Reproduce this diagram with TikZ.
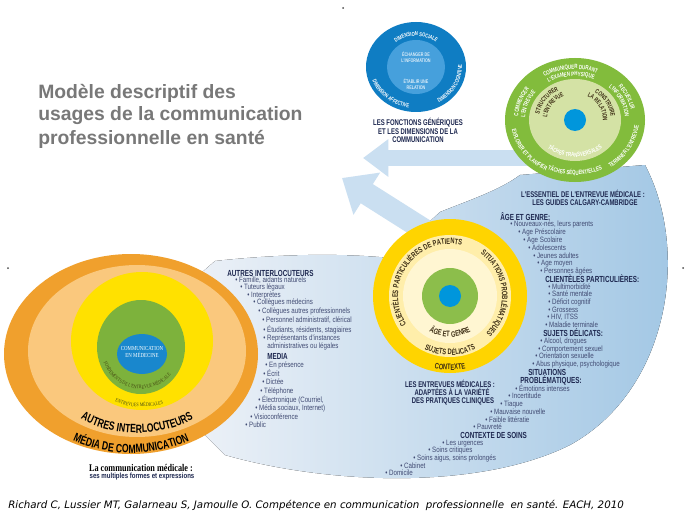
\documentclass[tikz,border=0pt]{standalone}
\usepackage{fontspec}
\setmainfont{Liberation Sans}
\newfontfamily\condfont[FakeStretch=0.8]{Liberation Sans}
\newfontfamily\hdrfont[FakeStretch=0.72]{Liberation Sans}
\newfontfamily\slabfont[FakeStretch=0.8]{Liberation Serif}
\newfontfamily\citefont{DejaVu Sans}
\usetikzlibrary{arrows.meta,decorations.text}

\definecolor{titlegray}{RGB}{120,120,120}
\definecolor{listblue}{RGB}{65,75,115}
\definecolor{navy}{RGB}{30,40,80}
\definecolor{ringink}{RGB}{60,45,20}
\definecolor{oliveink}{RGB}{70,75,20}
\definecolor{bluering}{RGB}{15,125,195}
\definecolor{bluedisc}{RGB}{70,160,220}
\definecolor{greenring}{RGB}{130,188,60}
\definecolor{greendisc}{RGB}{212,226,165}
\definecolor{dotblue}{RGB}{0,150,220}
\definecolor{yellowring}{RGB}{255,212,0}
\definecolor{paleyellow}{RGB}{255,238,170}
\definecolor{paleryellow}{RGB}{255,246,210}
\definecolor{midgreen}{RGB}{140,190,75}
\definecolor{darkorange}{RGB}{240,160,45}
\definecolor{lightorange}{RGB}{250,200,125}
\definecolor{sunyellow}{RGB}{255,225,0}
\definecolor{leafgreen}{RGB}{125,178,60}
\definecolor{medblue}{RGB}{25,135,205}
\definecolor{arrowblue}{RGB}{202,223,241}
\definecolor{swooshleft}{RGB}{240,243,248}
\definecolor{swooshright}{RGB}{160,198,228}

\newcommand\ringwhite{\hdrfont\bfseries\fontsize{4.6}{4.6}\selectfont\color{white}}
\newcommand\blueringwhite{\hdrfont\bfseries\fontsize{4.3}{4.3}\selectfont\color{white}}
\newcommand\ringdark{\hdrfont\bfseries\fontsize{4.8}{4.8}\selectfont\color{ringink}}
\newcommand\yellowink{\hdrfont\bfseries\fontsize{6}{6}\selectfont\color{ringink}}
\newcommand\serifink{\slabfont\fontsize{3.9}{3.9}\selectfont\color{oliveink}}
\newcommand\bigink{\hdrfont\bfseries\fontsize{9}{9}\selectfont\color{black}}

\begin{document}
\begin{tikzpicture}[x=0.75pt,y=0.75pt,
    listitem/.style={anchor=west,inner sep=0pt,text height=4.1pt,text depth=1.2pt,text=listblue,font=\condfont\fontsize{5.8}{5.8}\selectfont},
    listhead/.style={anchor=west,inner sep=0pt,text height=4.5pt,text depth=1.2pt,text=navy,font=\hdrfont\bfseries\fontsize{6.6}{6.6}\selectfont},
    headline/.style={inner sep=0pt,text height=4.5pt,text depth=1.2pt,text=navy,font=\hdrfont\bfseries\fontsize{6.2}{6.2}\selectfont},
    subline/.style={inner sep=0pt,text height=4.3pt,text depth=1.2pt,text=navy,font=\hdrfont\bfseries\fontsize{6.2}{6.2}\selectfont},
    titleline/.style={anchor=west,inner sep=0pt,text=titlegray,font=\bfseries\fontsize{14.5}{14.5}\selectfont},
    ringtext/.style={decorate,decoration={text along path,text align=center,text={#1}}}]
    \useasboundingbox (0,0) rectangle (689,-517);
    \fill[white] (0,0) rectangle (689,-517);

    % centres of the rings
    \coordinate (fonctions) at (416,-67);
    \coordinate (calgary) at (575,-120);
    \coordinate (entrevues) at (450,-296);
    \coordinate (media) at (131,-354);
    \coordinate (autres) at (137,-351);
    \coordinate (cliniques) at (142,-341);
    \coordinate (fondements) at (141,-347);
    \coordinate (medecine) at (142,-354);

    % pale band behind the lists
    \fill[left color=swooshleft,right color=swooshright] (170,-300) -- (215,-261) .. controls (280,-254) and (340,-253) .. (390,-258)
        -- (440,-212) .. controls (470,-200) and (500,-190) .. (520,-175) -- (645,-165)
        .. controls (690,-250) and (670,-390) .. (570,-445) .. controls (480,-490) and (330,-485) .. (225,-455) -- (170,-400) -- cycle;
    \draw[arrowblue,line width=12pt,-{Triangle[length=19pt,width=27pt]}] (535,-158) -- (363,-158);
    \draw[arrowblue,line width=17pt,-{Triangle[length=22pt,width=36pt]}] (440,-240) -- (342,-178);

    % the generic functions
    \fill[bluering] (fonctions) ellipse[x radius=50,y radius=45];
    \fill[bluedisc] (fonctions) ellipse[x radius=29,y radius=27];
    \path[ringtext={|\blueringwhite|DIMENSION SOCIALE}] ([shift={(140:33 and 31)}]fonctions) arc[start angle=140,end angle=40,x radius=33,y radius=31];
    \path[ringtext={|\blueringwhite|DIMENSION COGNITIVE}] ([shift={(-75:46 and 41)}]fonctions) arc[start angle=-75,end angle=20,x radius=46,y radius=41];
    \path[ringtext={|\blueringwhite|DIMENSION AFFECTIVE}] ([shift={(180:46 and 41)}]fonctions) arc[start angle=180,end angle=278,x radius=46,y radius=41];
    \node[align=center,inner sep=0pt,text=white,opacity=0.8,font=\hdrfont\bfseries\fontsize{3.9}{4.6}\selectfont] (echanger) at (416,-57) {ÉCHANGER DE\\L'INFORMATION};
    \node[align=center,inner sep=0pt,text=white,opacity=0.8,font=\hdrfont\bfseries\fontsize{3.9}{4.6}\selectfont] (etablir) at (416,-84) {ÉTABLIR UNE\\RELATION};
    \node[headline] (generiques) at (418,-123) {LES FONCTIONS GÉNÉRIQUES};
    \node[subline] (dimensions) at (418,-132) {ET LES DIMENSIONS DE LA};
    \node[subline] (communication) at (418,-140) {COMMUNICATION};

    % Calgary-Cambridge
    \fill[greenring] (calgary) ellipse[x radius=70,y radius=62];
    \fill[greendisc] (calgary) ellipse[x radius=46,y radius=41];
    \fill[dotblue] (calgary) circle (11);
    \path[ringtext={|\ringwhite|COMMUNIQUER DURANT}] ([shift={(145:57 and 51)}]calgary) arc[start angle=145,end angle=45,x radius=57,y radius=51];
    \path[ringtext={|\ringwhite|L'EXAMEN PHYSIQUE}] ([shift={(145:50 and 44)}]calgary) arc[start angle=145,end angle=45,x radius=50,y radius=44];
    \path[ringtext={|\ringwhite|RECUEILLIR}] ([shift={(65:57 and 51)}]calgary) arc[start angle=65,end angle=-15,x radius=57,y radius=51];
    \path[ringtext={|\ringwhite|L'INFORMATION}] ([shift={(65:50 and 44)}]calgary) arc[start angle=65,end angle=-15,x radius=50,y radius=44];
    \path[ringtext={|\ringwhite|COMMENCER}] ([shift={(200:57 and 51)}]calgary) arc[start angle=200,end angle=120,x radius=57,y radius=51];
    \path[ringtext={|\ringwhite|L'ENTREVUE}] ([shift={(200:50 and 44)}]calgary) arc[start angle=200,end angle=120,x radius=50,y radius=44];
    \path[ringtext={|\ringwhite|EXPLORER ET PLANIFIER}] ([shift={(165:64 and 57)}]calgary) arc[start angle=165,end angle=265,x radius=64,y radius=57];
    \path[ringtext={|\ringwhite|TERMINER L'ENTREVUE}] ([shift={(-80:64 and 57)}]calgary) arc[start angle=-80,end angle=20,x radius=64,y radius=57];
    \path[ringtext={|\ringwhite|TÂCHES SÉQUENTIELLES}] ([shift={(215:62 and 55)}]calgary) arc[start angle=215,end angle=325,x radius=62,y radius=55];
    \path[ringtext={|\ringwhite|TÂCHES TRANSVERSALES}] ([shift={(210:42 and 37)}]calgary) arc[start angle=210,end angle=330,x radius=42,y radius=37];
    \path[ringtext={|\ringdark|STRUCTURER}] ([shift={(200:36 and 33)}]calgary) arc[start angle=200,end angle=90,x radius=36,y radius=33];
    \path[ringtext={|\ringdark|L'ENTREVUE}] ([shift={(200:28 and 26)}]calgary) arc[start angle=200,end angle=90,x radius=28,y radius=26];
    \path[ringtext={|\ringdark|CONSTRUIRE}] ([shift={(85:36 and 33)}]calgary) arc[start angle=85,end angle=-25,x radius=36,y radius=33];
    \path[ringtext={|\ringdark|LA RELATION}] ([shift={(85:28 and 26)}]calgary) arc[start angle=85,end angle=-25,x radius=28,y radius=26];
    \node[headline] (essentiel) at (583,-195) {L'ESSENTIEL DE L'ENTREVUE MÉDICALE :};
    \node[subline] (guides) at (585,-203) {LES GUIDES CALGARY-CAMBRIDGE};

    % medical interviews
    \fill[yellowring] (entrevues) circle (77);
    \fill[paleyellow] (entrevues) circle (61);
    \fill[paleryellow] (entrevues) circle (47);
    \fill[midgreen] (entrevues) circle (28);
    \fill[dotblue] (entrevues) circle (11);
    \path[ringtext={|\yellowink|CLIENTÈLES PARTICULIÈRES DE PATIENTS}] ([shift={(235:52)}]entrevues) arc[start angle=235,end angle=55,radius=52];
    \path[ringtext={|\yellowink|SITUATIONS PROBLÉMATIQUES}] ([shift={(70:52)}]entrevues) arc[start angle=70,end angle=-62,radius=52];
    \path[ringtext={|\yellowink|ÂGE ET GENRE}] ([shift={(225:41)}]entrevues) arc[start angle=225,end angle=315,radius=41];
    \path[ringtext={|\yellowink|SUJETS DÉLICATS}] ([shift={(220:59)}]entrevues) arc[start angle=220,end angle=320,radius=59];
    \path[ringtext={|\yellowink|CONTEXTE}] ([shift={(240:74)}]entrevues) arc[start angle=240,end angle=300,radius=74];
    \node[headline] (entrevuesmed) at (450,-385) {LES ENTREVUES MÉDICALES :};
    \node[subline] (adaptees) at (452,-393) {ADAPTÉES À LA VARIÉTÉ};
    \node[subline] (pratiques) at (453,-401) {DES PRATIQUES CLINIQUES};

    % medical communication
    \fill[darkorange] (media) ellipse[x radius=127,y radius=100];
    \fill[lightorange] (autres) ellipse[x radius=109,y radius=86];
    \fill[sunyellow] (cliniques) ellipse[x radius=71,y radius=69];
    \fill[leafgreen] (fondements) ellipse[x radius=44,y radius=47];
    \fill[medblue] (medecine) ellipse[x radius=25,y radius=20];
    \node[align=center,inner sep=0pt,text=white,font=\slabfont\fontsize{4.6}{5.6}\selectfont] (medecinetext) at (142,-352) {COMMUNICATION\\EN MÉDECINE};
    \path[ringtext={|\serifink|FONDEMENTS DE L'ENTREVUE MÉDICALE}] ([shift={(190:40 and 42)}]fondements) arc[start angle=190,end angle=330,x radius=40,y radius=42];
    \path[ringtext={|\serifink|ENTREVUES MÉDICALES}] ([shift={(235:68 and 66)}]cliniques) arc[start angle=235,end angle=300,x radius=68,y radius=66];
    \path[ringtext={|\bigink|AUTRES INTERLOCUTEURS}] ([shift={(205:100 and 82)}]autres) arc[start angle=205,end angle=335,x radius=100,y radius=82];
    \path[ringtext={|\bigink|MÉDIA DE COMMUNICATION}] ([shift={(205:120 and 99)}]media) arc[start angle=205,end angle=335,x radius=120,y radius=99];
    \node[inner sep=0pt,font=\slabfont\bfseries\fontsize{7.7}{7.7}\selectfont] (medicale) at (141,-468) {La communication médicale :};
    \node[inner sep=0pt,text=navy,font=\condfont\bfseries\fontsize{5.7}{5.7}\selectfont] (formes) at (142,-477) {ses multiples formes et expressions};

    % title
    \node[titleline] (title1) at (38,-93) {Modèle descriptif des};
    \node[titleline] (title2) at (38,-116) {usages de la communication};
    \node[titleline] (title3) at (38,-139) {professionnelle en santé};

    % left list
    \node[listhead] (interloc) at (227,-274) {AUTRES INTERLOCUTEURS};
    \node[listitem] (famille) at (235,-281) {• Famille, aidants naturels};
    \node[listitem] (tuteurs) at (240,-288) {• Tuteurs légaux};
    \node[listitem] (interpretes) at (247,-296) {• Interprètes};
    \node[listitem] (medecins) at (253,-303) {• Collègues médecins};
    \node[listitem] (professionnels) at (258,-312) {• Collègues autres professionnels};
    \node[listitem] (personnel) at (262,-321) {• Personnel administratif, clérical};
    \node[listitem] (etudiants) at (263,-331) {• Étudiants, résidents, stagiaires};
    \node[listitem] (representants) at (263,-339) {• Représentants d'instances};
    \node[listitem] (legales) at (267,-347) {administratives ou légales};
    \node[listhead] (mediahead) at (267,-357) {MEDIA};
    \node[listitem] (presence) at (265,-366) {• En présence};
    \node[listitem] (ecrit) at (263,-375) {• Écrit};
    \node[listitem] (dictee) at (262,-383) {• Dictée};
    \node[listitem] (telephone) at (260,-392) {• Téléphone};
    \node[listitem] (electronique) at (258,-401) {• Électronique (Courriel,};
    \node[listitem] (sociaux) at (255,-409) {• Média sociaux, Internet)};
    \node[listitem] (visio) at (250,-418) {• Visioconférence};
    \node[listitem] (public) at (245,-426) {• Public};

    % right list
    \node[listhead] (agehead) at (500,-218) {ÂGE ET GENRE:};
    \node[listitem] (nouveaux) at (510,-225) {• Nouveaux-nés, leurs parents};
    \node[listitem] (prescolaire) at (518,-233) {• Age Préscolaire};
    \node[listitem] (scolaire) at (523,-241) {• Age Scolaire};
    \node[listitem] (adolescents) at (528,-249) {• Adolescents};
    \node[listitem] (jeunes) at (533,-257) {• Jeunes adultes};
    \node[listitem] (moyen) at (537,-264) {• Age moyen};
    \node[listitem] (agees) at (540,-272) {• Personnes âgées};
    \node[listhead] (clienthead) at (545,-280) {CLIENTÈLES PARTICULIÈRES:};
    \node[listitem] (multi) at (548,-288) {• Multimorbidité};
    \node[listitem] (mentale) at (548,-295) {• Santé mentale};
    \node[listitem] (cognitif) at (548,-303) {• Déficit cognitif};
    \node[listitem] (grossess) at (548,-311) {• Grossess};
    \node[listitem] (hiv) at (547,-318) {• HIV, ITSS};
    \node[listitem] (terminale) at (545,-326) {• Maladie terminale};
    \node[listhead] (sujetshead) at (543,-334) {SUJETS DÉLICATS:};
    \node[listitem] (alcool) at (540,-342) {• Alcool, drogues};
    \node[listitem] (comportement) at (538,-350) {• Comportement sexuel};
    \node[listitem] (orientation) at (535,-357) {• Orientation sexuelle};
    \node[listitem] (abus) at (532,-365) {• Abus physique, psychologique};
    \node[listhead] (situhead) at (528,-373) {SITUATIONS};
    \node[listhead] (problhead) at (520,-381) {PROBLÉMATIQUES:};
    \node[listitem] (emotions) at (515,-390) {• Émotions intenses};
    \node[listitem] (incertitude) at (508,-397) {• Incertitude};
    \node[listitem] (tiaque) at (500,-405) {• Tiaque};
    \node[listitem] (mauvaise) at (490,-413) {• Mauvaise nouvelle};
    \node[listitem] (litteratie) at (485,-421) {• Faible littératie};
    \node[listitem] (pauvrete) at (473,-428) {• Pauvreté};
    \node[listhead] (contextehead) at (460,-436) {CONTEXTE DE SOINS};
    \node[listitem] (urgences) at (442,-444) {• Les urgences};
    \node[listitem] (critiques) at (428,-451) {• Soins critiques};
    \node[listitem] (aigus) at (413,-459) {• Soins aigus, soins prolongés};
    \node[listitem] (cabinet) at (400,-467) {• Cabinet};
    \node[listitem] (domicile) at (385,-474) {• Domicile};

    % reference
    \node[anchor=west,inner sep=0pt,font=\citefont\itshape\fontsize{7.7}{7.7}\selectfont] (source) at (8,-505) {Richard C, Lussier MT, Galarneau S, Jamoulle O. Compétence en communication \ professionnelle \ en santé. EACH, 2010};

    % stray marks
    \fill[black!70] (8,-268) circle (1);
    \fill[black!70] (683,-268) circle (1);
    \fill[black!70] (343,-8) circle (1);
  \end{tikzpicture}
\end{document}
